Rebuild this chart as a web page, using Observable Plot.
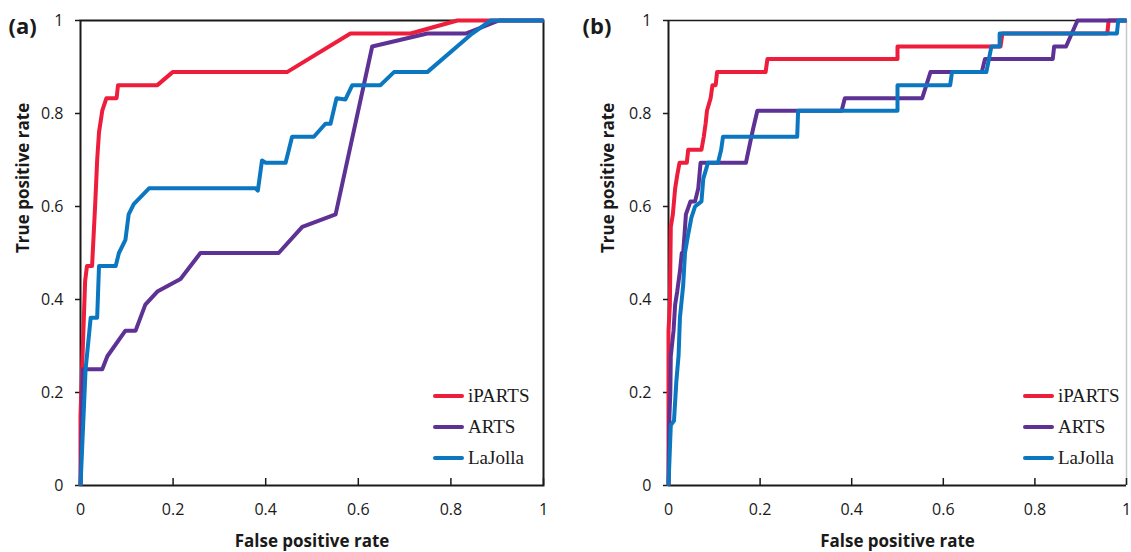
<!DOCTYPE html>
<html><head><meta charset="utf-8">
<script src="https://cdn.jsdelivr.net/npm/d3@7"></script>
<script src="https://cdn.jsdelivr.net/npm/@observablehq/plot@0.6"></script>
<style>
html,body{margin:0;padding:0;background:#fff;overflow:hidden}
#wrap{display:flex;width:1131px;height:552px}
.panel{position:relative;flex:none}
.row{position:absolute;display:flex;align-items:center;white-space:nowrap;height:22px;font-family:"Liberation Serif","Times New Roman",serif;font-size:19px;color:#1a1a1a}
.sw{display:inline-block;width:31px;height:4px;border-radius:2px;margin-right:4px}
</style></head><body><div id="wrap"></div>
<script>
// ---- data ----
const methods = ["iPARTS", "ARTS", "LaJolla"];
const colors = ["#EE1D3B", "#5E3294", "#0A77C0"];
const tickValues = [0, 0.2, 0.4, 0.6, 0.8, 1];
const tickLabels = ["0", "0.2", "0.4", "0.6", "0.8", "1"];
const xLabel = "False positive rate";
const yLabel = "True positive rate";
const panelLabels = ["(a)", "(b)"];

// panel (a): [false positive rate, true positive rate]
const a_iPARTS = [[0,0],[0,0.15],[0.01,0.44],[0.014,0.472],[0.025,0.472],[0.032,0.61],[0.036,0.70],[0.04,0.76],[0.047,0.806],[0.056,0.833],[0.078,0.833],[0.081,0.861],[0.166,0.861],[0.199,0.889],[0.446,0.889],[0.583,0.972],[0.713,0.972],[0.814,1],[1,1]];
const a_ARTS = [[0,0],[0.005,0.25],[0.047,0.25],[0.058,0.278],[0.097,0.333],[0.119,0.333],[0.14,0.389],[0.166,0.417],[0.216,0.444],[0.259,0.5],[0.428,0.5],[0.479,0.556],[0.551,0.583],[0.63,0.944],[0.749,0.972],[0.832,0.972],[0.904,1],[1,1]];
const a_LaJolla = [[0,0],[0.011,0.25],[0.022,0.361],[0.036,0.361],[0.04,0.472],[0.076,0.472],[0.083,0.5],[0.097,0.528],[0.104,0.583],[0.115,0.605],[0.148,0.639],[0.378,0.639],[0.383,0.634],[0.392,0.699],[0.40,0.694],[0.443,0.694],[0.457,0.75],[0.504,0.75],[0.529,0.778],[0.54,0.778],[0.553,0.833],[0.572,0.83],[0.587,0.861],[0.648,0.861],[0.677,0.889],[0.749,0.889],[0.846,0.972],[0.886,1],[1,1]];

// panel (b)
const b_iPARTS = [[0,0],[0,0.333],[0.003,0.389],[0.005,0.556],[0.0095,0.583],[0.0145,0.639],[0.019,0.667],[0.024,0.694],[0.04,0.694],[0.043,0.722],[0.072,0.722],[0.077,0.75],[0.081,0.778],[0.084,0.806],[0.092,0.833],[0.096,0.861],[0.103,0.861],[0.106,0.889],[0.212,0.889],[0.216,0.917],[0.5,0.917],[0.5,0.944],[0.725,0.944],[0.729,0.972],[0.958,0.972],[0.961,1],[1,1]];
const b_ARTS = [[0,0],[0.002,0.15],[0.004,0.2],[0.005,0.278],[0.011,0.333],[0.0145,0.389],[0.019,0.417],[0.025,0.461],[0.029,0.5],[0.032,0.5],[0.035,0.54],[0.038,0.583],[0.048,0.611],[0.058,0.611],[0.065,0.639],[0.07,0.694],[0.169,0.694],[0.175,0.722],[0.184,0.764],[0.194,0.806],[0.378,0.806],[0.385,0.833],[0.554,0.833],[0.572,0.889],[0.684,0.889],[0.691,0.917],[0.839,0.917],[0.842,0.944],[0.868,0.944],[0.893,1],[1,1]];
const b_LaJolla = [[0,0],[0.005,0.13],[0.012,0.139],[0.017,0.222],[0.022,0.28],[0.025,0.361],[0.032,0.43],[0.036,0.5],[0.043,0.54],[0.05,0.576],[0.058,0.6],[0.072,0.611],[0.076,0.66],[0.083,0.683],[0.086,0.694],[0.108,0.694],[0.115,0.722],[0.119,0.75],[0.281,0.75],[0.283,0.806],[0.5,0.806],[0.5,0.861],[0.615,0.861],[0.619,0.889],[0.694,0.889],[0.705,0.944],[0.723,0.944],[0.723,0.972],[0.979,0.972],[0.982,1],[1,1]];

// ---- build ----
function rowsFrom(seriesList) {
  const out = [];
  seriesList.forEach((pts, i) => pts.forEach(([fpr, tpr]) => out.push({method: methods[i], fpr, tpr})));
  return out;
}
const panels = [
  {letter: panelLabels[0], rows: rowsFrom([a_iPARTS, a_ARTS, a_LaJolla]), width: 566, mL: 80, mR: 23, boxed: true, letterDx: -72, ylabDx: -57, legLeft: 433},
  {letter: panelLabels[1], rows: rowsFrom([b_iPARTS, b_ARTS, b_LaJolla]), width: 565, mL: 102, mR: 5, boxed: false, letterDx: -86, ylabDx: -60, legLeft: 457}
];
const fmt = d => tickLabels[tickValues.indexOf(d)];
const ink = "#1a1a1a";
const wrap = document.getElementById("wrap");

for (const p of panels) {
  const frameMarks = p.boxed
    ? [Plot.frame({stroke: ink, strokeWidth: 2})]
    : [Plot.ruleY([1], {stroke: ink, strokeWidth: 1.5}),
       Plot.ruleX([1], {stroke: "#c8c8c8", strokeWidth: 1.5}),
       Plot.ruleY([0], {stroke: ink, strokeWidth: 2}),
       Plot.ruleX([0], {stroke: ink, strokeWidth: 2})];
  const chart = Plot.plot({
    width: p.width, height: 552,
    marginTop: 20, marginBottom: 67, marginLeft: p.mL, marginRight: p.mR,
    style: {fontFamily: "'Open Sans', sans-serif", fontSize: "16px", color: ink, background: "white", overflow: "visible"},
    x: {domain: [0, 1]},
    y: {domain: [0, 1]},
    color: {domain: methods, range: colors},
    marks: [
      ...frameMarks,
      Plot.axisY(tickValues, {tickSize: 5, tickPadding: 12, tickFormat: fmt, strokeWidth: 1.5, label: null}),
      Plot.axisX(tickValues, {tickSize: 7, dy: -7, fill: "none", strokeWidth: 1.5, label: null}),
      Plot.axisX(tickValues, {tickSize: 0, tickPadding: 18, tickFormat: fmt, label: null}),
      Plot.line(p.rows, {x: "fpr", y: "tpr", z: "method", stroke: "method", strokeWidth: 4, strokeLinejoin: "round", strokeLinecap: "butt"}),
      Plot.text([xLabel], {text: d => d, frameAnchor: "bottom", dy: 56, lineAnchor: "middle", fontWeight: "bold", fontSize: 17, fill: ink}),
      Plot.text([yLabel], {text: d => d, frameAnchor: "left", dx: p.ylabDx, rotate: -90, lineAnchor: "middle", fontWeight: "bold", fontSize: 17, fill: ink}),
      Plot.text([p.letter], {text: d => d, frameAnchor: "top-left", dx: p.letterDx, dy: 6, textAnchor: "start", lineAnchor: "middle", fontWeight: "bold", fontSize: 22, fill: ink})
    ]
  });
  const div = document.createElement("div");
  div.className = "panel";
  div.style.width = p.width + "px";
  div.appendChild(chart);
  methods.forEach((m, i) => {
    const row = document.createElement("div");
    row.className = "row";
    row.style.left = p.legLeft + "px";
    row.style.top = (396 + i * 31 - 11) + "px";
    const sw = document.createElement("span");
    sw.className = "sw";
    sw.style.background = colors[i];
    row.appendChild(sw);
    row.appendChild(document.createTextNode(m));
    div.appendChild(row);
  });
  wrap.appendChild(div);
}
</script>
</body></html>
